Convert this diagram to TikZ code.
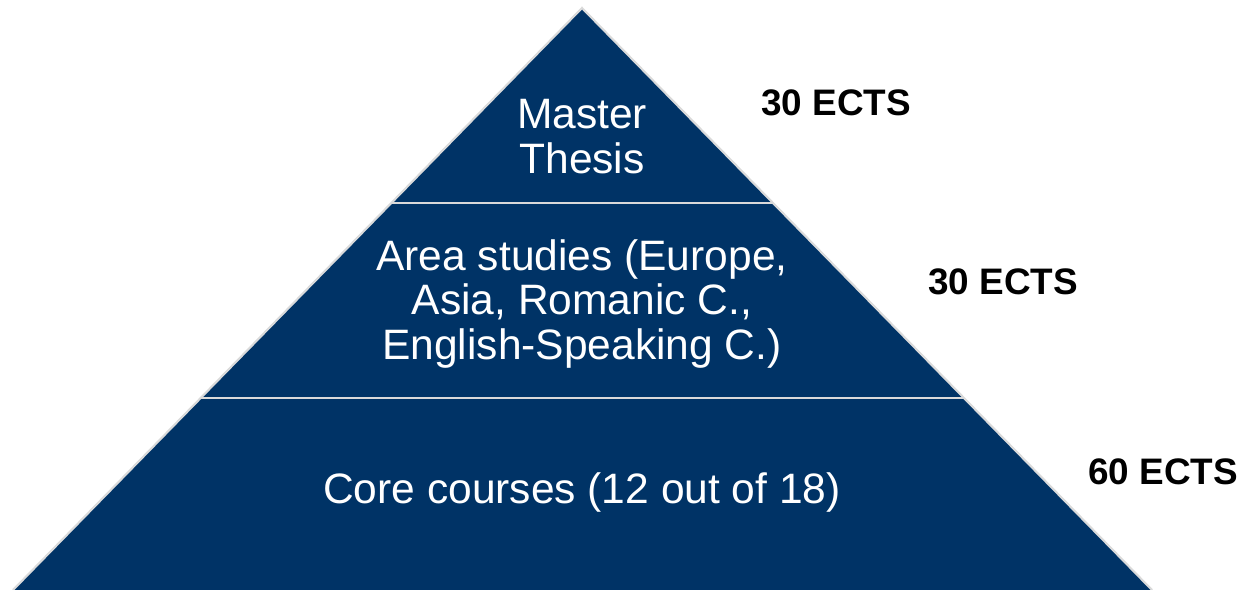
\documentclass[tikz,border=0pt]{standalone}
\usepackage{fontspec}
\setmainfont{Liberation Sans}
\usepackage{xcolor}
\usepackage{tikz}
\usetikzlibrary{positioning}

\definecolor{navy}{RGB}{0,51,102}
\definecolor{rim}{RGB}{218,218,218}

\begin{document}
\begin{tikzpicture}[
    x=0.02cm, y=-0.02cm,
    layer/.style={text=white, align=center, font=\fontsize{24.2}{25.6}\selectfont},
    credits/.style={font=\fontsize{21}{24}\selectfont\bfseries},
    cut/.style={draw=rim, line width=1.4pt}
]
\useasboundingbox (0,0) rectangle (1249,590);

% Pyramid
\coordinate (apex) at (582,8);
\coordinate (bl) at (13,590);
\coordinate (br) at (1152,590);
\fill[navy] (bl) -- (apex) -- (br) -- cycle;
\draw[rim, line width=1.2pt] (bl) -- (apex) -- (br);

% Cuts between layers
\coordinate (topl) at (391,203);
\coordinate (topr) at (773,203);
\coordinate (midl) at (201,398);
\coordinate (midr) at (964,398);
\draw[cut] (topl) -- (topr);
\draw[cut] (midl) -- (midr);

% Layers
\node[layer] (thesis) at (582,137) {Master\\Thesis};
\node[layer] (area) at (582,304) {Area studies (Europe,\\Asia, Romanic C.,\\English-Speaking C.)};
\node[layer] (core) at (582,493) {Core courses (12 out of 18)};

% Credits
\node[credits] (ects1) at (836,103) {30 ECTS};
\node[credits] (ects2) at (1003,282) {30 ECTS};
\node[credits] (ects3) at (1163,472) {60 ECTS};

\end{tikzpicture}
\end{document}
